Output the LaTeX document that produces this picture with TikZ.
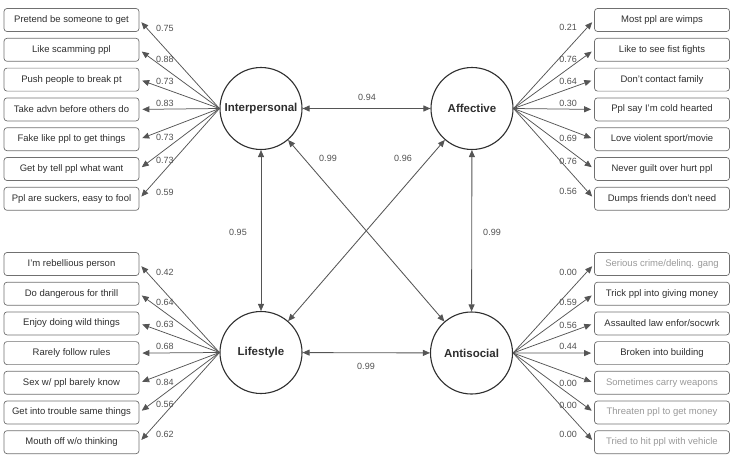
\documentclass[tikz,border=0pt]{standalone}
\usepackage{fontspec}
\setmainfont{Liberation Sans}
\usetikzlibrary{arrows.meta}
\definecolor{linec}{HTML}{555555}
\definecolor{circc}{HTML}{2E2E2E}
\definecolor{boxc}{HTML}{707070}
\definecolor{textc}{HTML}{2E2E2E}
\definecolor{greytext}{HTML}{999999}
\definecolor{numc}{HTML}{505050}
\tikzset{
  latent/.style={circle, draw=circc, line width=1.1pt, minimum size=82pt, inner sep=0pt,
    font=\fontsize{11.5}{13}\selectfont\bfseries, text=textc},
  item/.style={draw=boxc, rounded corners=3pt, minimum width=135pt, minimum height=23pt,
    inner sep=0pt, font=\fontsize{9.5}{11}\selectfont, text=textc, line width=0.7pt},
  greyitem/.style={item, text=greytext},
  tipx/.tip={Triangle[length=7pt,width=6pt]},
  load/.style={draw=linec, line width=0.75pt, -tipx, shorten >=3pt},
  cov/.style={draw=linec, line width=0.85pt, tipx-tipx},
  num/.style={font=\fontsize{9}{10}\selectfont, text=numc, inner sep=0pt},
}
\begin{document}
\begin{tikzpicture}[x=1pt,y=-1pt]
\useasboundingbox (0,0) rectangle (734,455);

% latent variables
\node[latent] (I) at (261,108.5) {Interpersonal};
\node[latent] (A) at (472,108.5) {Affective};
\node[latent] (L) at (261,352.5) {Lifestyle};
\node[latent] (S) at (471.5,353) {Antisocial};

% Interpersonal items
\node[item] (i1) at (71.5,20)    {Pretend be someone to get};
\node[item] (i2) at (71.5,49.8)  {Like scamming ppl};
\node[item] (i3) at (71.5,79.6)  {Push people to break pt};
\node[item] (i4) at (71.5,109.4) {Take advn before others do};
\node[item] (i5) at (71.5,139.2) {Fake like ppl to get things};
\node[item] (i6) at (71.5,169)   {Get by tell ppl what want};
\node[item] (i7) at (71.5,198.8) {Ppl are suckers, easy to fool};

% Affective items
\node[item] (a1) at (662,20)    {Most ppl are wimps};
\node[item] (a2) at (662,49.8)  {Like to see fist fights};
\node[item] (a3) at (662,79.6)  {Don't contact family};
\node[item] (a4) at (662,109.4) {Ppl say I'm cold hearted};
\node[item] (a5) at (662,139.2) {Love violent sport/movie};
\node[item] (a6) at (662,169)   {Never guilt over hurt ppl};
\node[item] (a7) at (662,198.8) {Dumps friends don't need};

% Lifestyle items
\node[item] (l1) at (71.5,264)   {I'm rebellious person};
\node[item] (l2) at (71.5,293.7) {Do dangerous for thrill};
\node[item] (l3) at (71.5,323.4) {Enjoy doing wild things};
\node[item] (l4) at (71.5,353.1) {Rarely follow rules};
\node[item] (l5) at (71.5,382.8) {Sex w/ ppl barely know};
\node[item] (l6) at (71.5,412.5) {Get into trouble same things};
\node[item] (l7) at (71.5,442.2) {Mouth off w/o thinking};

% Antisocial items
\node[greyitem] (s1) at (662,264)   {Serious crime/delinq. gang};
\node[item]     (s2) at (662,293.7) {Trick ppl into giving money};
\node[item]     (s3) at (662,323.4) {Assaulted law enfor/socwrk};
\node[item]     (s4) at (662,353.1) {Broken into building};
\node[greyitem] (s5) at (662,382.8) {Sometimes carry weapons};
\node[greyitem] (s6) at (662,412.5) {Threaten ppl to get money};
\node[greyitem] (s7) at (662,442.2) {Tried to hit ppl with vehicle};

% loadings
\foreach \k in {1,...,7} {
  \draw[load] (I.west) -- (i\k.east);
  \draw[load] (A.east) -- (a\k.west);
  \draw[load] (L.west) -- (l\k.east);
  \draw[load] (S.east) -- (s\k.west);
}

% loading values
\node[num, anchor=west] (ni1) at (156,28)  {0.75};
\node[num, anchor=west] (ni2) at (156,59)  {0.88};
\node[num, anchor=west] (ni3) at (156,81)  {0.73};
\node[num, anchor=west] (ni4) at (156,103) {0.83};
\node[num, anchor=west] (ni5) at (156,137) {0.73};
\node[num, anchor=west] (ni6) at (156,160) {0.73};
\node[num, anchor=west] (ni7) at (156,192) {0.59};

\node[num, anchor=east] (na1) at (577,27)  {0.21};
\node[num, anchor=east] (na2) at (577,59)  {0.76};
\node[num, anchor=east] (na3) at (577,81)  {0.64};
\node[num, anchor=east] (na4) at (577,103) {0.30};
\node[num, anchor=east] (na5) at (577,138) {0.69};
\node[num, anchor=east] (na6) at (577,161) {0.76};
\node[num, anchor=east] (na7) at (577,191) {0.56};

\node[num, anchor=west] (nl1) at (156,272) {0.42};
\node[num, anchor=west] (nl2) at (156,302) {0.64};
\node[num, anchor=west] (nl3) at (156,324) {0.63};
\node[num, anchor=west] (nl4) at (156,346) {0.68};
\node[num, anchor=west] (nl5) at (156,382) {0.84};
\node[num, anchor=west] (nl6) at (156,404) {0.56};
\node[num, anchor=west] (nl7) at (156,434) {0.62};

\node[num, anchor=east] (ns1) at (577,272) {0.00};
\node[num, anchor=east] (ns2) at (577,302) {0.59};
\node[num, anchor=east] (ns3) at (577,325) {0.56};
\node[num, anchor=east] (ns4) at (577,346) {0.44};
\node[num, anchor=east] (ns5) at (577,383) {0.00};
\node[num, anchor=east] (ns6) at (577,405) {0.00};
\node[num, anchor=east] (ns7) at (577,434) {0.00};

% correlations
\draw[cov] (I) -- (A);
\draw[cov] (L) -- (S);
\draw[cov] (I) -- (L);
\draw[cov] (A) -- (S);
\draw[cov] (I) -- (S);
\draw[cov] (A) -- (L);

\node[num] (cIA) at (367,97)  {0.94};
\node[num] (cIS) at (328,158) {0.99};
\node[num] (cAL) at (403,158) {0.96};
\node[num] (cIL) at (238,232) {0.95};
\node[num] (cAS) at (492,232) {0.99};
\node[num] (cLS) at (366,366) {0.99};
\end{tikzpicture}
\end{document}
